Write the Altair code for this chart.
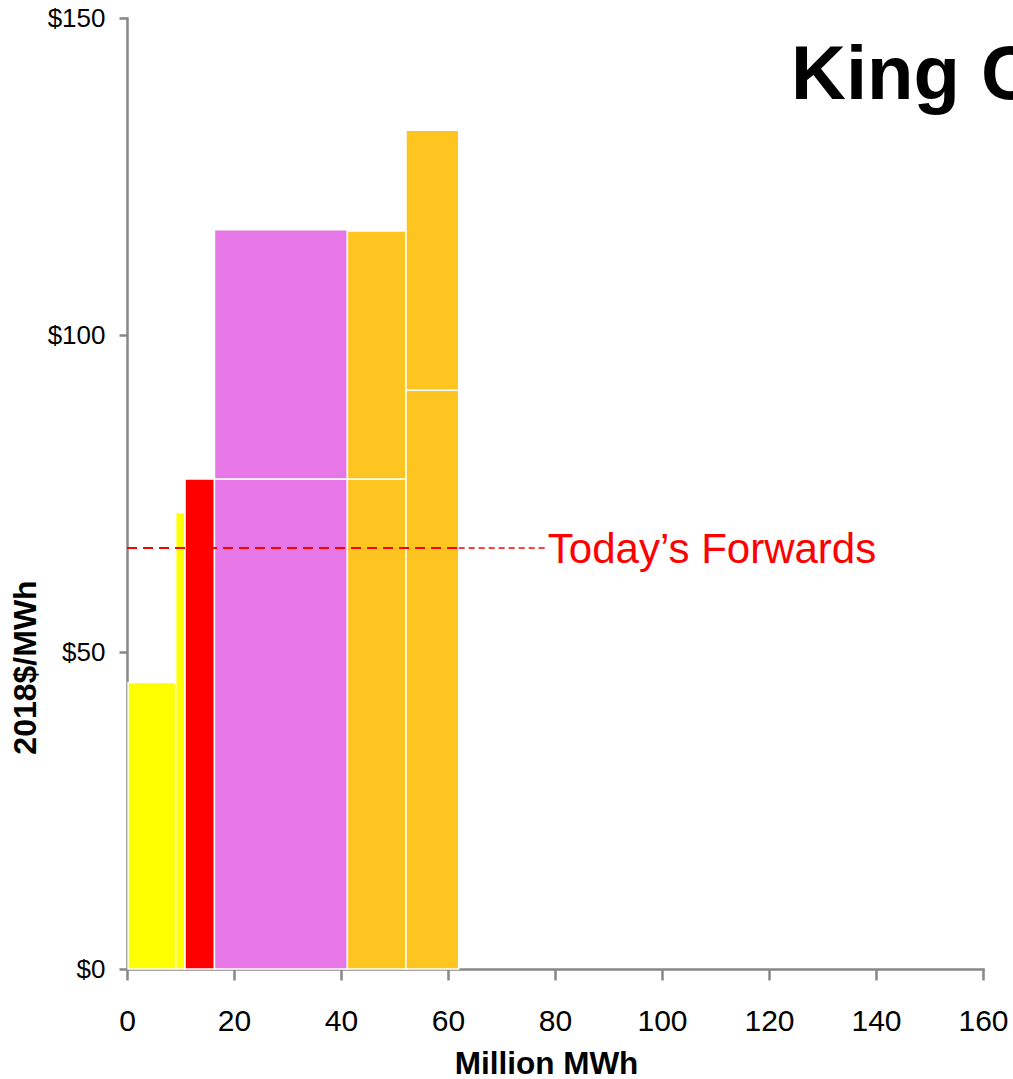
import altair as alt
import pandas as pd

# Supply-stack blocks: horizontal extent (million MWh) and price band (2018$/MWh)
seg_x0 = [0.2, 9.1, 10.85, 16.35, 16.35, 41.2, 41.2, 52.15, 52.15]
seg_x1 = [9.1, 10.85, 16.35, 41.2, 41.2, 52.15, 52.15, 62.0, 62.0]
seg_lo = [0.0, 0.0, 0.0, 0.0, 77.3, 0.0, 77.3, 0.0, 91.3]
seg_hi = [45.2, 72.0, 77.3, 77.3, 116.6, 77.3, 116.4, 91.3, 132.3]
seg_group = ["A", "A", "B", "C", "C", "D", "D", "D", "D"]

group_names = ["A", "B", "C", "D"]
group_colors = ["#FFFF00", "#FF0000", "#E777E6", "#FEC41F"]

# Forward price reference
forward_price = 66.4
forward_chart_end = 62.0
forward_label_end = 78.1
forward_label = "Today\u2019s Forwards"

x_ticks = [0, 20, 40, 60, 80, 100, 120, 140, 160]
y_ticks = [0, 50, 100, 150]

FONT = "Liberation Sans"
AXIS_GRAY = "#878787"

blocks = pd.DataFrame({
    "x0": seg_x0, "x1": seg_x1, "lo": seg_lo, "hi": seg_hi, "group": seg_group,
})

x_scale = alt.Scale(domain=[0, 160], nice=False, zero=True)
y_scale = alt.Scale(domain=[0, 150], nice=False, zero=True)

bars = alt.Chart(blocks).mark_rect(stroke="white", strokeWidth=1.5).encode(
    x=alt.X(
        "x0:Q", scale=x_scale,
        axis=alt.Axis(
            values=x_ticks, title="Million MWh", grid=False,
            domainColor=AXIS_GRAY, domainWidth=2.5,
            tickColor=AXIS_GRAY, tickWidth=2.5, tickSize=11,
            labelFont=FONT, labelFontSize=30, labelColor="black",
            labelBaseline="alphabetic", labelPadding=50, labelFlush=False,
            titleFont=FONT, titleFontSize=31.5, titleFontWeight="bold",
            titleColor="black", titleX=419, titleY=104,
            titleAlign="center", titleBaseline="alphabetic",
        ),
    ),
    x2="x1:Q",
    y=alt.Y(
        "lo:Q", scale=y_scale,
        axis=alt.Axis(
            values=y_ticks, title="2018$/MWh", grid=False,
            labelExpr="'$' + datum.value",
            domainColor=AXIS_GRAY, domainWidth=2.5,
            tickColor=AXIS_GRAY, tickWidth=2.5, tickSize=8,
            labelFont=FONT, labelFontSize=26, labelColor="black",
            labelPadding=14, labelFlush=False,
            titleFont=FONT, titleFontSize=32, titleFontWeight="bold",
            titleColor="black", titleAngle=270, titleX=-92, titleY=649,
            titleAlign="center", titleBaseline="alphabetic",
        ),
    ),
    y2="hi:Q",
    color=alt.Color(
        "group:N",
        scale=alt.Scale(domain=group_names, range=group_colors),
        legend=None,
    ),
)

fwd_in = pd.DataFrame({"a": [0.0], "b": [forward_chart_end], "p": [forward_price]})
fwd_out = pd.DataFrame({"a": [forward_chart_end], "b": [forward_label_end], "p": [forward_price]})

rule_in = alt.Chart(fwd_in).mark_rule(
    color="#FF0000", strokeWidth=1.8, strokeDash=[10, 6]
).encode(x=alt.X("a:Q", scale=x_scale), x2="b:Q", y=alt.Y("p:Q", scale=y_scale))

rule_out = alt.Chart(fwd_out).mark_rule(
    color="#FF0000", strokeWidth=1.6, strokeDash=[6, 4]
).encode(x=alt.X("a:Q", scale=x_scale), x2="b:Q", y=alt.Y("p:Q", scale=y_scale))

label = alt.Chart(
    pd.DataFrame({"x": [forward_label_end], "p": [forward_price], "t": [forward_label]})
).mark_text(
    font=FONT, fontSize=42, color="#FF0000", align="left",
    baseline="alphabetic", dx=3, dy=15,
).encode(x=alt.X("x:Q", scale=x_scale), y=alt.Y("p:Q", scale=y_scale), text="t:N")

heading = alt.Chart(pd.DataFrame({"t": ["King C"]})).mark_text(
    font=FONT, fontSize=76, fontWeight="bold", color="black",
    align="left", baseline="alphabetic",
).encode(x=alt.value(664), y=alt.value(81), text="t:N")

chart = alt.layer(bars, rule_in, rule_out, label, heading).properties(
    width=856,
    height=951,
    padding={"left": 127, "top": 18, "right": 30, "bottom": 110},
    autosize=alt.AutoSizeParams(type="none"),
).configure_view(stroke=None).configure_axis(domainCap="square")

chart.save("out.html", embed_options={"renderer": "svg", "actions": False})
